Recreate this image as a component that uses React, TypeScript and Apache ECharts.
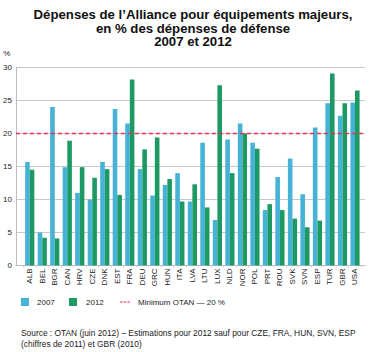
import React, { useEffect, useRef } from "react";
import * as echarts from "echarts";

const categories = [
  "ALB", "BEL", "BGR", "CAN", "HRV", "CZE", "DNK", "EST", "FRA", "DEU", "GRC", "HUN", "ITA", "LVA",
  "LTU", "LUX", "NLD", "NOR", "POL", "PRT", "ROU", "SVK", "SVN", "ESP", "TUR", "GBR", "USA",
];
const values2007 = [
  15.7, 5.0, 24.0, 14.9, 11.0, 10.0, 15.7, 23.7, 21.5, 14.6, 10.6, 12.2, 14.0, 9.7,
  18.6, 6.9, 19.1, 21.5, 18.6, 8.4, 13.4, 16.2, 10.8, 20.9, 24.6, 22.7, 24.7,
];
const values2012 = [
  14.5, 4.2, 4.1, 18.9, 14.9, 13.3, 14.6, 10.7, 28.2, 17.6, 19.4, 13.1, 9.7, 12.3,
  8.8, 27.3, 14.0, 20.0, 17.7, 9.3, 8.4, 7.1, 5.8, 6.8, 29.1, 24.6, 26.5,
];
const minimumOtan = 20;
const yTicks = { min: 0, max: 30, interval: 5 };

const BLUE = "#46b2d6";
const GREEN = "#1d9a64";
const RED = "#f0304f";
const FONT = "'Liberation Sans', Arial, Helvetica, sans-serif";

export default function App() {
  const ref = useRef<HTMLDivElement>(null);
  useEffect(() => {
    if (!ref.current) return;
    const chart = echarts.init(ref.current, null, { renderer: "svg" });
    const gridTop = 67.5;
    const gridHeight = 198;
    chart.setOption({
      animation: false,
      textStyle: { fontFamily: FONT },
      title: [
        {
          text: "Dépenses de l\u2019Alliance pour équipements majeurs,\nen % des dépenses de défense\n2007 et 2012",
          left: 188,
          top: 3,
          textAlign: "center",
          textStyle: { fontSize: 13.2, fontWeight: "bold", color: "#111", lineHeight: 13.5, fontFamily: FONT },
        },
        {
          text: "Source : OTAN (juin 2012) \u2013 Estimations pour 2012 sauf pour CZE, FRA, HUN, SVN, ESP\n(chiffres de 2011) et GBR (2010)",
          left: 16,
          top: 323,
          textStyle: { fontSize: 8.4, fontWeight: "normal", color: "#222", lineHeight: 10.5, fontFamily: FONT },
        },
      ],
      legend: [
        {
          left: 16, top: 293, itemWidth: 8, itemHeight: 8, icon: "rect",
          data: ["2007"],
          textStyle: { fontSize: 8, color: "#222", padding: [0, 0, 0, 3] },
        },
        {
          left: 64, top: 293, itemWidth: 8, itemHeight: 8, icon: "rect",
          data: ["2012"],
          textStyle: { fontSize: 8, color: "#222", padding: [0, 0, 0, 4] },
        },
        {
          left: 115, top: 293, itemWidth: 10, itemHeight: 8,
          data: [{ name: "Minimum OTAN \u2014 20 %", icon: "path://M0,3.5h2.6v1h-2.6zM3.7,3.5h2.6v1h-2.6zM7.4,3.5h2.6v1h-2.6zM0,0h10v0.01h-10zM0,8h10v0.01h-10z", itemStyle: { color: RED } }],
          textStyle: { fontSize: 8, color: "#222", padding: [0, 0, 0, 3] },
        },
      ],
      grid: [
        { left: 15, right: 4, top: gridTop, height: gridHeight, containLabel: false },
        { left: 23.5, right: 7.75, top: gridTop, height: gridHeight, containLabel: false },
      ],
      xAxis: [
        {
          type: "category", gridIndex: 0, data: categories, boundaryGap: false,
          axisLine: { show: true, lineStyle: { color: "#bdbdbd", width: 1 } },
          axisTick: { show: false },
          axisLabel: { show: false },
          splitLine: { show: false },
        },
        {
          type: "category", gridIndex: 1, data: categories,
          axisLine: { show: false },
          axisTick: { show: true, length: 2, interval: 0, lineStyle: { color: "#d0d0d0" } },
          axisLabel: { show: true, rotate: 90, interval: 0, fontSize: 8, color: "#222", margin: 3, fontFamily: FONT },
        },
      ],
      yAxis: [
        {
          type: "value", gridIndex: 0, min: yTicks.min, max: yTicks.max, interval: yTicks.interval,
          name: "%", nameLocation: "end", nameGap: 10,
          nameTextStyle: { fontSize: 8, color: "#222", align: "center", padding: [0, 18, 0, 0] },
          axisLine: { show: true, lineStyle: { color: "#bdbdbd", width: 1 } },
          axisTick: { show: false },
          axisLabel: { fontSize: 8, color: "#222", margin: 4, fontFamily: FONT },
          splitLine: { show: true, lineStyle: { color: "#c8c8c8", width: 1 } },
        },
        {
          type: "value", gridIndex: 1, min: yTicks.min, max: yTicks.max, interval: yTicks.interval,
          show: false, splitLine: { show: false },
        },
      ],
      series: [
        {
          name: "2007", type: "bar", xAxisIndex: 1, yAxisIndex: 1, data: values2007,
          barWidth: 4.6, barGap: "0%", itemStyle: { color: BLUE },
        },
        {
          name: "2012", type: "bar", xAxisIndex: 1, yAxisIndex: 1, data: values2012,
          barWidth: 4.6, barGap: "0%", itemStyle: { color: GREEN },
        },
        {
          name: "Minimum OTAN \u2014 20 %", type: "line", xAxisIndex: 0, yAxisIndex: 0,
          data: categories.map(() => minimumOtan),
          color: RED,
          showSymbol: false,
          symbol: "none",
          silent: true,
          itemStyle: { color: RED },
          lineStyle: { color: RED, type: [4, 3], width: 1.4, opacity: 1 },
          emphasis: { disabled: true },
          z: 5,
        },
      ],
    });
    return () => chart.dispose();
  }, []);
  return <div ref={ref} style={{ width: 369, height: 352, position: "absolute", left: 0, top: 0 }} />;
}
